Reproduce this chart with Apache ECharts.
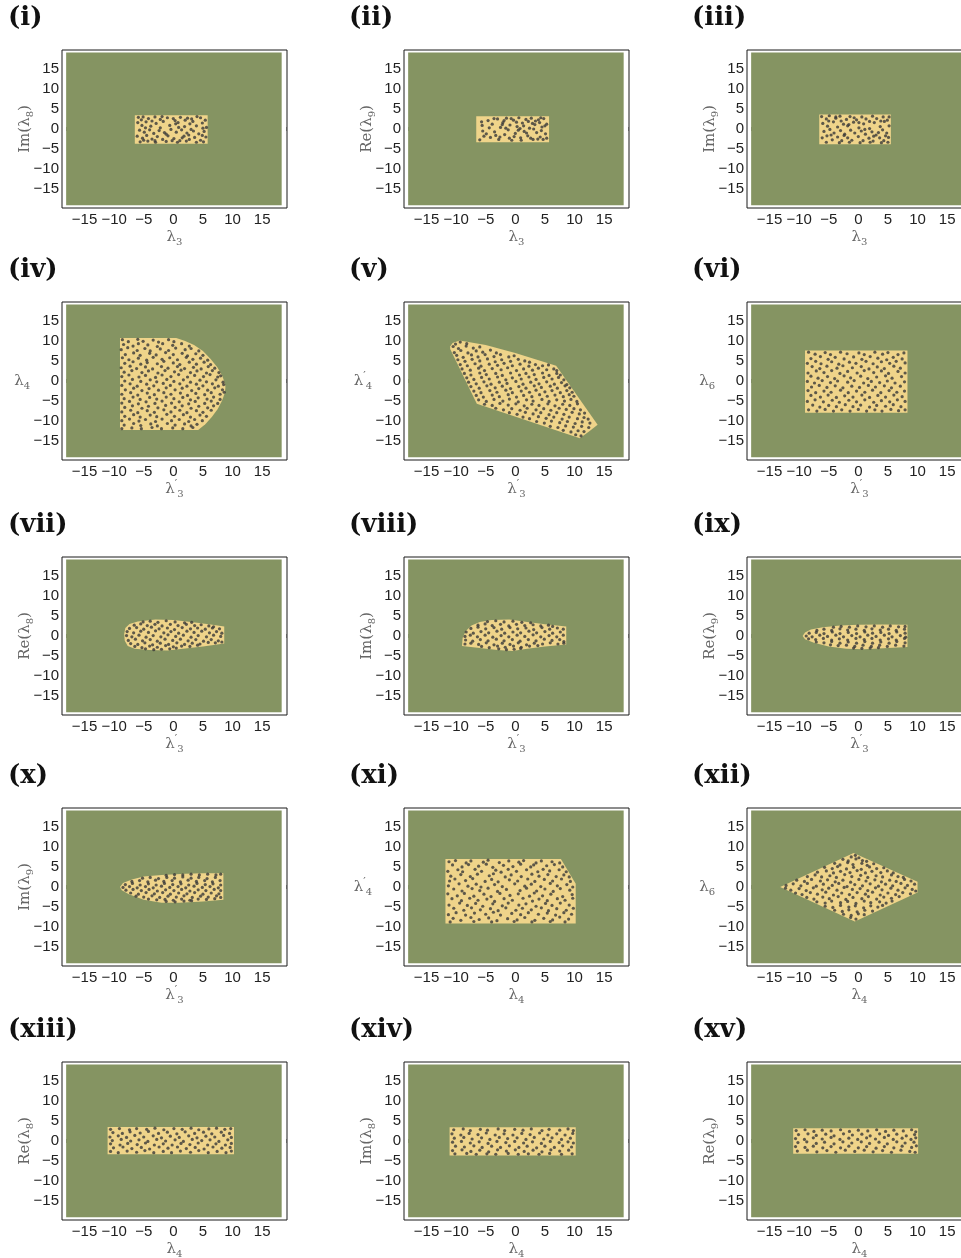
<!DOCTYPE html>
<html><head><meta charset="utf-8">
<script src="https://cdn.jsdelivr.net/npm/echarts@6/dist/echarts.min.js"></script>
<style>html,body{margin:0;padding:0;background:#fff}#c{width:961px;height:1258px}</style>
</head><body><div id="c"></div>
<script>
// ---------- labels ----------
const panelLabels = ['(i)','(ii)','(iii)','(iv)','(v)','(vi)','(vii)','(viii)','(ix)','(x)','(xi)','(xii)','(xiii)','(xiv)','(xv)'];
const xNames = ['{m|λ}{s|3}','{m|λ}{s|3}','{m|λ}{s|3}','{m|λ}{p|′}{s|3}','{m|λ}{p|′}{s|3}','{m|λ}{p|′}{s|3}','{m|λ}{p|′}{s|3}','{m|λ}{p|′}{s|3}','{m|λ}{p|′}{s|3}','{m|λ}{p|′}{s|3}','{m|λ}{s|4}','{m|λ}{s|4}','{m|λ}{s|4}','{m|λ}{s|4}','{m|λ}{s|4}'];
const yNames = ['{m|Im(λ}{s|8}{m|)}','{m|Re(λ}{s|9}{m|)}','{m|Im(λ}{s|9}{m|)}','{m|λ}{s|4}','{m|λ}{p|′}{s|4}','{m|λ}{s|6}','{m|Re(λ}{s|8}{m|)}','{m|Im(λ}{s|8}{m|)}','{m|Re(λ}{s|9}{m|)}','{m|Im(λ}{s|9}{m|)}','{m|λ}{p|′}{s|4}','{m|λ}{s|6}','{m|Re(λ}{s|8}{m|)}','{m|Im(λ}{s|8}{m|)}','{m|Re(λ}{s|9}{m|)}'];
const yNameRotated = [true,true,true,false,false,false,true,true,true,true,false,false,true,true,true];
const tickValues = [-15,-10,-5,0,5,10,15];
const minorTickValues = [-18,-17,-16,-15,-14,-13,-12,-11,-10,-9,-8,-7,-6,-5,-4,-3,-2,-1,0,1,2,3,4,5,6,7,8,9,10,11,12,13,14,15,16,17,18,19];

// ---------- allowed regions (vertices) ----------
const region1 = [[-6.5,3.4],[5.8,3.4],[5.8,-3.7],[-6.5,-3.7]];
const region2 = [[-6.6,3.2],[5.7,3.2],[5.7,-3.3],[-6.6,-3.3]];
const region3 = [[-6.6,3.6],[5.5,3.6],[5.5,-3.8],[-6.6,-3.8]];
const region4 = [[-9,10.7],[0.5,10.7],[2,10],[3.5,9],[5,7.5],[6.3,5.5],[7.4,3.5],[8.2,1.5],[8.7,-0.5],[8.8,-1.5],[8.7,-3],[8.2,-5],[7.5,-7],[6.5,-9],[5.4,-10.8],[4.2,-12.2],[-9,-12.2]];
const region5 = [[-11,8.6],[-10.6,9.5],[-9.4,10.1],[-5,9],[0,7],[6.9,3.8],[13.9,-10.9],[12.5,-12.5],[10.9,-14.3],[-6.5,-5.7],[-11,8]];
const region6 = [[-9,7.6],[8.3,7.6],[8.3,-7.9],[-9,-7.9]];
const region7 = [[-8.3,0.5],[-8.1,2],[-7.4,3],[-6,3.6],[-3,4.1],[0,4.0],[3,3.5],[6,2.9],[8.6,2.4],[8.6,-1.9],[5,-2.6],[2,-3.1],[-1,-3.6],[-4,-3.5],[-6.5,-3.2],[-7.7,-2.5],[-8.2,-1.2]];
const region8 = [[-9,-2.5],[-8.9,-0.5],[-8.4,1.2],[-7.4,2.6],[-6,3.5],[-4,4.0],[-1,4.1],[2,3.5],[5,2.9],[8.6,2.4],[8.6,-2.1],[5,-2.6],[2,-3.2],[-0.5,-3.75],[-3,-3.5],[-6,-3.0]];
const region9 = [[-9.4,0],[-9,0.9],[-8,1.6],[-6,2.2],[-3,2.6],[0,2.8],[4,2.85],[8.3,2.8],[8.3,-2.75],[5,-3.0],[1,-3.3],[-2,-3.2],[-5,-2.6],[-7.5,-1.7],[-9,-0.8]];
const region10 = [[-9,0],[-8.5,1],[-7,1.9],[-5,2.6],[-2,3.0],[2,3.3],[5,3.4],[8.45,3.4],[8.45,-3.2],[5,-3.6],[1,-3.9],[-2,-3.9],[-5,-3.2],[-7.5,-1.8],[-8.7,-0.8]];
const region11 = [[-11.8,7],[7.7,7],[10.2,0.8],[10.2,-9.1],[-11.8,-9.1]];
const region12 = [[-13.2,0],[-0.8,8.5],[10,1.3],[10,-1.4],[-0.6,-8.6]];
const region13 = [[-11.1,3.5],[10.25,3.5],[10.25,-3.3],[-11.1,-3.3]];
const region14 = [[-11.1,3.4],[10.2,3.4],[10.2,-3.6],[-11.1,-3.6]];
const region15 = [[-11,3.2],[10.1,3.2],[10.1,-3.2],[-11,-3.2]];

// ---------- sampled points (x,y,x,y,...) ----------
const dots1 = [-5.9,2.9,-5.1,3.0,-4.2,2.6,-3.1,3.0,-2.2,2.4,-1.0,2.8,0.3,2.1,1.2,2.9,2.4,2.7,3.3,1.9,4.6,2.8,5.4,2.2,
-6.0,1.6,-5.3,0.9,-4.6,1.8,-3.8,0.7,-2.9,1.4,-1.7,1.9,-0.6,0.9,0.8,1.6,1.9,0.6,2.8,1.3,3.9,0.8,4.9,1.5,5.6,0.4,
-5.7,-0.3,-4.9,-0.8,-4.0,-0.2,-3.3,-1.1,-2.4,-0.4,-1.5,-0.9,-0.4,-0.1,0.5,-0.8,1.4,-0.2,2.3,-1.0,3.4,-0.5,4.3,-1.2,5.2,-0.6,
-6.1,-1.8,-5.2,-2.3,-4.5,-1.6,-3.6,-2.5,-2.7,-1.9,-1.8,-2.6,-0.9,-1.7,0.1,-2.4,1.1,-2.9,1.8,-1.8,2.7,-2.6,3.6,-2.1,4.6,-2.8,5.5,-2.0,
-5.6,-3.2,-4.3,-3.0,-3.0,-3.3,-1.2,-3.1,0.7,-3.3,2.2,-3.0,3.9,-3.3,5.1,-3.2,
-5.4,2.3,-3.6,2.0,-1.9,3.1,0.0,2.6,2.0,2.2,4.0,3.1,5.0,0.2,-2.2,0.3,0.9,0.4,3.0,-0.1,-4.7,0.3,-1.2,-1.3,2.6,-1.5,4.9,-1.6,-3.1,-2.9,1.5,-2.2,0.4,1.3,-5.0,-2.8,3.1,2.5,-0.2,-2.9];
const dots2 = [-6.0,-2.7,-5.6,0.9,-5.5,-0.5,-5.3,-1.8,-4.6,2.1,-4.2,-2.1,-3.9,1.2,-3.5,-0.7,-3.0,2.5,-2.8,-2.6,-2.5,0.4,-2.1,1.6,-1.8,-1.4,-1.5,2.7,-1.2,-0.2,-0.9,1.0,-0.6,-2.8,-0.3,2.2,0.0,-1.1,0.3,0.6,0.6,2.8,0.9,-2.2,1.2,1.5,1.5,-0.6,1.8,2.4,2.1,-1.7,2.4,0.2,2.7,2.7,3.0,-2.6,3.3,1.1,3.6,-0.9,3.9,2.3,4.2,-2.0,4.5,0.5,4.8,2.6,5.1,-1.2,5.3,1.2,
-5.7,1.8,-4.9,-1.2,-4.4,0.3,-3.6,2.6,-3.3,-1.6,-2.6,-2.0,-2.2,1.1,-1.6,0.2,-1.0,-2.3,-0.7,2.6,0.2,1.7,0.5,-0.3,1.0,-2.8,1.4,0.8,1.9,-1.0,2.2,1.9,2.6,-2.3,3.1,0.0,3.4,2.0,3.8,-2.5,4.1,1.6,4.4,-0.4,4.7,-2.6,5.0,0.8,5.3,-2.3,-0.2,-1.9,0.8,0.1,2.9,1.4,4.3,2.8,-1.9,2.1];
const dots3 = [-6.2,3.1,-5.4,2.5,-4.9,3.3,-3.8,2.7,-3.1,3.2,-2.0,2.4,-1.4,3.1,-0.3,2.3,0.6,3.0,1.3,2.5,2.4,3.2,3.1,2.6,4.2,3.0,4.9,2.2,
-6.0,1.4,-5.2,0.7,-4.2,1.8,-3.5,0.5,-2.5,1.2,-1.8,0.8,-0.8,1.7,0.1,0.3,0.9,1.3,1.9,0.1,2.7,1.6,3.7,0.6,4.4,1.9,5.2,0.8,
-5.8,-0.6,-4.8,-0.1,-4.1,-1.0,-3.0,-0.4,-2.3,-1.3,-1.3,-0.3,-0.6,-1.0,0.5,-0.5,1.2,-1.3,2.3,-0.7,3.0,-1.5,4.1,-0.2,4.8,-1.0,
-6.1,-2.2,-5.3,-1.7,-4.4,-2.7,-3.5,-2.0,-2.8,-2.9,-1.8,-2.2,-1.1,-2.8,0.0,-1.9,0.8,-2.9,1.8,-2.3,2.5,-3.0,3.6,-2.2,4.3,-2.9,5.1,-2.1,
-5.4,-3.3,-3.2,-3.4,-1.5,-3.3,0.3,-3.4,2.0,-3.3,3.9,-3.4,5.0,-3.3,
-5.0,2.0,-2.9,2.0,-0.7,2.8,1.9,1.9,3.8,2.0,-4.6,-1.5,-1.6,1.1,1.1,-0.1,2.6,-1.8,4.6,-1.7,5.2,3.0,-3.8,3.0,0.1,1.6,-2.4,-1.6,3.4,-0.9];
const dots4 = [-8.6,10.3,-7.6,9.8,-6.0,10.4,-5.1,9.9,-3.4,10.2,-2.5,9.7,-0.8,10.3,0.1,9.8,
-8.4,9.1,-6.8,8.7,-5.9,9.3,-4.3,9.0,-2.7,8.6,-1.8,9.3,-0.1,8.9,1.4,9.3,2.7,8.7,
-8.8,7.8,-7.7,8.3,-6.1,7.6,-4.8,8.1,-3.9,7.5,-2.2,8.0,-0.8,7.6,0.4,8.2,2.0,7.8,3.0,8.1,4.3,7.5,
-8.1,6.6,-6.7,7.0,-5.6,6.4,-4.0,6.9,-2.9,6.5,-1.3,7.1,0.0,6.6,1.5,6.9,2.4,6.3,3.8,6.8,5.0,6.4,
-8.6,5.8,-7.5,5.3,-5.9,5.7,-4.5,5.2,-3.4,5.9,-1.9,5.4,-0.6,5.8,0.7,5.3,2.2,5.9,3.3,5.4,4.6,5.7,5.8,5.2,
-8.2,4.4,-6.8,4.8,-5.5,4.2,-4.4,4.6,-2.7,4.3,-1.6,4.9,0.0,4.5,1.1,4.1,2.7,4.7,3.9,4.2,5.2,4.7,6.3,4.1,
-8.8,3.3,-7.3,3.7,-6.2,3.1,-4.7,3.5,-3.5,3.0,-2.0,3.6,-0.9,3.2,0.7,3.6,1.9,3.1,3.4,3.4,4.7,3.0,5.9,3.6,7.0,3.2,
-8.3,2.2,-7.0,2.6,-5.3,2.1,-4.2,2.5,-2.6,2.0,-1.4,2.6,0.2,2.3,1.3,2.7,2.9,2.1,4.0,2.5,5.6,2.0,6.6,2.6,7.7,2.1,
-8.7,1.1,-7.5,1.5,-5.8,1.0,-4.7,1.4,-3.0,0.9,-1.9,1.5,-0.4,1.1,0.9,1.6,2.4,1.0,3.6,1.4,5.1,1.1,6.2,1.6,7.5,1.0,8.0,1.3,
-8.2,0.0,-6.9,0.4,-5.5,-0.1,-3.9,0.3,-2.8,-0.2,-1.1,0.4,0.1,-0.1,1.7,0.3,2.9,-0.3,4.5,0.2,5.6,-0.2,7.2,0.3,8.4,-0.3,
-8.7,-1.1,-7.3,-0.7,-6.1,-1.3,-4.5,-0.8,-3.3,-1.2,-1.7,-0.6,-0.5,-1.1,1.1,-0.7,2.3,-1.3,3.9,-0.8,5.0,-1.2,6.6,-0.7,7.6,-1.3,8.5,-0.9,
-8.1,-2.2,-6.7,-1.8,-5.3,-2.4,-4.1,-1.9,-2.5,-2.3,-1.2,-1.7,0.3,-2.2,1.5,-1.8,3.1,-2.4,4.3,-1.9,5.8,-2.3,7.0,-1.7,8.3,-2.2,
-8.7,-3.3,-7.2,-2.9,-6.0,-3.5,-4.4,-3.0,-3.2,-3.4,-1.6,-2.9,-0.4,-3.3,1.2,-3.0,2.4,-3.6,3.8,-3.1,5.3,-3.4,6.4,-2.9,7.9,-3.3,8.6,-2.8,
-8.3,-4.4,-6.8,-4.0,-5.6,-4.6,-4.0,-4.1,-2.8,-4.5,-1.2,-4.0,0.1,-4.4,1.6,-4.1,2.9,-4.7,4.2,-4.2,5.7,-4.5,6.8,-4.0,7.9,-4.6,
-8.7,-5.5,-7.4,-5.1,-5.9,-5.7,-4.6,-5.2,-3.1,-5.6,-1.9,-5.0,-0.3,-5.5,1.0,-5.2,2.6,-5.7,3.7,-5.1,5.3,-5.6,6.4,-5.0,7.5,-5.6,
-8.2,-6.6,-6.9,-6.2,-5.3,-6.8,-4.2,-6.3,-2.6,-6.7,-1.3,-6.1,0.3,-6.6,1.5,-6.2,3.0,-6.8,4.3,-6.3,5.8,-6.7,6.8,-6.2,
-8.7,-7.7,-7.2,-7.3,-6.0,-7.9,-4.4,-7.4,-3.2,-7.8,-1.6,-7.2,-0.4,-7.7,1.1,-7.3,2.3,-7.9,3.9,-7.4,5.0,-7.8,6.4,-7.3,
-8.2,-8.8,-6.7,-8.4,-5.6,-9.0,-3.9,-8.5,-2.8,-8.9,-1.1,-8.3,0.2,-8.8,1.7,-8.4,2.9,-9.0,4.5,-8.5,5.6,-8.8,
-8.7,-9.9,-7.4,-9.5,-5.8,-10.0,-4.7,-9.6,-3.0,-10.1,-1.9,-9.5,-0.3,-9.9,1.0,-9.6,2.6,-10.1,3.6,-9.6,4.9,-9.9,
-8.3,-11.0,-6.7,-10.6,-5.5,-11.1,-3.8,-10.7,-2.7,-11.2,-1.0,-10.6,0.3,-11.0,1.9,-10.7,3.0,-11.2,4.0,-10.8,
-8.7,-11.9,-7.0,-11.7,-5.4,-11.9,-3.6,-11.6,-2.0,-11.9,-0.1,-11.7,1.6,-11.9,3.3,-11.6];
const dots5 = [-10.1,9.2,-9.3,9.7,-8.2,9.3,
-10.5,8.6,-9.6,8.1,-8.3,8.7,-7.1,8.2,-6.0,8.5,
-10.3,7.1,-9.2,7.6,-8.0,7.0,-6.6,7.5,-5.5,7.2,-4.2,7.7,-3.2,7.0,
-9.9,6.4,-8.8,5.9,-7.4,6.5,-6.3,6.0,-5.1,6.6,-3.6,6.1,-2.5,6.6,-1.1,6.0,-0.2,6.3,
-9.7,5.3,-8.5,4.9,-7.3,5.4,-6.0,5.0,-4.7,5.5,-3.4,4.8,-2.3,5.3,-0.8,4.9,0.5,5.4,1.6,5.0,2.4,4.7,
-9.3,4.1,-8.1,3.8,-6.8,4.3,-5.8,3.7,-4.4,4.2,-3.0,3.9,-1.9,4.4,-0.5,3.8,0.8,4.2,2.3,3.7,3.4,4.1,4.6,3.8,5.6,4.0,
-9.0,3.0,-7.6,2.7,-6.2,3.2,-5.2,2.6,-3.9,3.1,-2.4,2.8,-1.3,3.3,0.2,2.6,1.4,3.0,2.9,2.7,3.9,3.2,5.3,2.8,6.5,3.0,7.0,2.6,
-8.6,1.9,-7.5,1.5,-6.0,2.0,-4.9,1.6,-3.3,1.9,-2.2,1.4,-0.8,2.0,0.7,1.5,1.8,1.9,3.2,1.6,4.6,2.0,5.7,1.4,7.0,1.9,7.6,1.5,
-8.2,0.8,-7.0,0.4,-5.7,0.9,-4.4,0.5,-3.0,1.0,-1.6,0.3,-0.5,0.8,1.0,0.5,2.3,1.0,3.5,0.4,4.8,0.9,6.2,0.5,7.3,0.9,8.2,0.3,
-7.9,-0.3,-6.6,-0.7,-5.3,-0.2,-4.1,-0.8,-2.7,-0.3,-1.4,-0.6,0.1,-0.1,1.3,-0.8,2.6,-0.3,4.0,-0.7,5.3,-0.2,6.6,-0.8,7.8,-0.4,8.7,-0.9,
-7.5,-1.4,-6.1,-1.8,-4.8,-1.2,-3.4,-1.7,-2.2,-1.3,-0.8,-1.9,0.6,-1.4,1.8,-1.8,3.2,-1.2,4.4,-1.6,5.9,-1.3,7.1,-1.8,8.4,-1.2,9.2,-1.7,
-7.0,-2.5,-5.8,-2.9,-4.3,-2.4,-3.1,-2.8,-1.6,-2.3,-0.5,-2.9,1.0,-2.5,2.4,-2.8,3.5,-2.3,5.0,-2.7,6.2,-2.4,7.6,-2.9,8.7,-2.4,9.6,-2.8,
-6.6,-3.6,-5.4,-4.0,-3.9,-3.5,-2.7,-3.9,-1.2,-3.4,0.2,-4.0,1.4,-3.6,2.8,-3.9,4.1,-3.4,5.4,-3.8,6.7,-3.5,8.1,-3.9,9.1,-3.4,9.9,-3.8,
-6.2,-4.7,-4.9,-5.1,-3.6,-4.6,-2.1,-5.0,-1.0,-4.5,0.5,-5.2,1.9,-4.7,3.0,-5.0,4.5,-4.6,5.7,-5.1,7.0,-4.7,8.3,-5.0,9.4,-4.6,10.4,-5.1,
-5.2,-5.8,-3.9,-6.1,-2.6,-5.6,-1.2,-6.0,0.1,-5.7,1.5,-6.2,2.8,-5.8,4.0,-6.1,5.5,-5.7,6.7,-6.2,8.0,-5.8,9.2,-6.1,10.5,-5.7,
-3.3,-6.8,-2.0,-7.2,-0.6,-6.9,0.8,-7.3,2.0,-6.8,3.5,-7.2,4.8,-6.9,6.0,-7.3,7.4,-6.8,8.6,-7.1,9.9,-6.9,11.0,-7.2,
-1.0,-7.9,0.3,-8.3,1.7,-7.8,3.0,-8.2,4.3,-7.9,5.7,-8.4,7.0,-7.9,8.2,-8.3,9.6,-7.8,10.8,-8.2,11.7,-8.0,
1.3,-9.0,2.4,-9.4,3.9,-8.9,5.2,-9.3,6.5,-9.0,7.9,-9.5,9.1,-9.0,10.5,-9.4,11.6,-9.1,12.3,-9.5,
3.6,-10.1,4.9,-10.5,6.1,-10.0,7.5,-10.4,8.8,-10.1,10.1,-10.6,11.3,-10.2,12.6,-10.5,
5.9,-11.3,7.2,-11.6,8.5,-11.2,9.8,-11.5,11.2,-11.3,12.4,-11.6,
8.1,-12.3,9.4,-12.7,10.6,-12.4,11.6,-12.6,
10.2,-13.4,11.1,-13.7];
const dots6 = [-8.4,7.2,-7.3,6.7,-5.6,7.1,-4.7,6.6,-3.0,7.2,-1.9,6.8,0.1,7.0,1.0,6.6,2.8,7.2,4.1,6.7,5.0,7.1,6.7,6.6,7.7,7.0,
-8.0,5.6,-6.4,6.1,-5.1,5.4,-3.9,5.9,-2.4,5.5,-0.8,6.0,0.6,5.4,2.0,6.1,3.3,5.7,4.8,5.3,5.9,5.9,7.4,5.5,
-8.6,4.4,-7.2,4.9,-6.3,4.3,-4.5,4.8,-3.3,4.2,-1.5,4.7,-0.4,4.4,1.3,4.9,2.5,4.3,3.9,4.8,5.3,4.4,6.4,4.9,7.9,4.5,
-7.8,3.6,-6.5,3.1,-5.3,3.7,-3.6,3.2,-2.6,3.8,-1.0,3.3,0.5,3.6,1.8,3.0,3.2,3.5,4.4,3.1,6.0,3.7,7.1,3.2,
-8.5,2.0,-7.1,2.5,-5.8,2.1,-4.5,2.6,-3.1,1.9,-1.8,2.4,-0.2,2.0,1.0,2.6,2.6,2.1,3.9,2.5,5.1,1.9,6.7,2.4,7.9,2.0,
-8.0,1.2,-6.8,0.7,-5.2,1.1,-4.0,0.6,-2.4,1.3,-1.3,0.8,0.4,1.2,1.6,0.6,3.1,1.0,4.6,1.3,5.7,0.7,7.3,1.1,
-8.6,-0.1,-7.4,-0.5,-6.1,0.1,-4.7,-0.4,-3.5,0.0,-1.8,-0.3,-0.7,0.1,0.9,-0.5,2.2,-0.1,3.6,-0.4,4.9,0.0,6.2,-0.5,7.8,-0.2,
-7.9,-1.5,-6.6,-1.1,-5.3,-1.6,-3.9,-1.2,-2.6,-1.7,-1.1,-1.3,0.2,-1.6,1.7,-1.1,2.9,-1.5,4.4,-1.2,5.6,-1.7,7.1,-1.3,
-8.5,-2.4,-7.2,-2.9,-5.8,-2.5,-4.6,-2.8,-3.0,-2.3,-1.7,-2.9,-0.3,-2.5,1.1,-2.8,2.4,-2.3,3.8,-2.9,5.2,-2.4,6.5,-2.8,7.8,-2.5,
-8.0,-3.6,-6.4,-4.0,-5.1,-3.5,-3.7,-4.1,-2.3,-3.7,-0.9,-4.0,0.6,-3.5,1.9,-4.1,3.3,-3.6,4.6,-4.0,6.0,-3.5,7.4,-3.9,
-8.6,-5.1,-7.3,-4.7,-5.9,-5.2,-4.4,-4.8,-3.2,-5.3,-1.6,-4.8,-0.3,-5.2,1.1,-4.7,2.6,-5.3,3.9,-4.9,5.3,-5.2,6.6,-4.7,7.9,-5.1,
-7.7,-6.0,-6.5,-6.5,-5.0,-6.1,-3.7,-6.4,-2.2,-5.9,-0.9,-6.4,0.4,-6.0,1.9,-6.5,3.1,-6.1,4.6,-6.3,5.9,-5.9,7.2,-6.4,
-8.4,-7.2,-7.0,-7.5,-5.6,-7.1,-4.2,-7.5,-2.8,-7.2,-1.4,-7.5,0.0,-7.1,1.4,-7.5,2.8,-7.2,4.0,-7.5,5.5,-7.1,6.8,-7.4,7.9,-7.2];
const dots7 = [-5.1,3.5,-3.9,3.7,-2.6,3.4,-1.2,3.8,0.3,3.5,1.9,3.3,3.1,3.4,
-6.6,2.7,-5.5,3.0,-4.4,2.6,-3.1,2.9,-1.9,2.5,-0.5,2.9,0.8,2.6,2.2,2.9,3.6,2.6,4.7,2.8,6.0,2.5,6.8,2.3,
-7.4,1.9,-6.2,2.1,-5.0,1.7,-3.7,2.2,-2.4,1.8,-1.0,2.0,0.2,1.6,1.5,2.1,2.9,1.8,4.1,2.0,5.4,1.7,6.6,2.0,7.8,1.8,
-7.8,1.1,-6.7,0.8,-5.5,1.2,-4.2,0.9,-3.0,1.3,-1.6,0.8,-0.4,1.1,0.9,0.7,2.3,1.2,3.5,0.9,4.8,1.2,6.1,0.8,7.3,1.1,8.2,0.7,
-7.9,0.1,-7.0,-0.2,-5.8,0.2,-4.6,-0.3,-3.4,0.1,-2.1,-0.2,-0.9,0.3,0.4,-0.1,1.7,0.2,3.0,-0.3,4.2,0.1,5.6,-0.2,6.8,0.2,8.0,-0.1,
-7.6,-1.1,-6.4,-0.8,-5.2,-1.2,-3.9,-0.9,-2.7,-1.3,-1.4,-0.8,-0.1,-1.1,1.2,-0.8,2.5,-1.2,3.8,-0.9,5.1,-1.3,6.4,-0.9,7.6,-1.2,
-7.2,-1.9,-6.0,-2.1,-4.8,-1.7,-3.5,-2.2,-2.2,-1.8,-0.8,-2.1,0.6,-1.7,1.9,-2.1,3.2,-1.8,4.5,-2.0,5.9,-1.6,7.1,-1.7,8.2,-1.5,
-6.5,-2.6,-5.3,-2.9,-4.0,-2.5,-2.7,-2.8,-1.3,-2.4,0.0,-2.7,1.4,-2.5,2.8,-2.6,4.1,-2.3,
-4.7,-3.2,-3.3,-3.4,-2.0,-3.3,-0.6,-3.2,0.5,-3.0];
const dots8 = [-4.7,3.6,-3.3,3.8,-1.9,3.5,-0.4,3.7,1.1,3.4,2.6,3.3,
-6.3,2.7,-5.1,3.0,-3.9,2.6,-2.5,2.9,-1.1,2.5,0.2,2.9,1.6,2.6,3.0,2.8,4.3,2.5,5.6,2.7,6.3,2.4,
-7.5,1.9,-6.3,2.2,-5.0,1.8,-3.6,2.1,-2.3,1.7,-0.9,2.1,0.4,1.8,1.8,2.0,3.1,1.6,4.5,2.1,5.8,1.7,7.1,2.0,8.1,1.7,
-8.3,1.0,-7.1,0.7,-5.8,1.1,-4.5,0.8,-3.1,1.2,-1.8,0.7,-0.4,1.0,0.9,0.8,2.3,1.2,3.6,0.8,5.0,1.1,6.3,0.7,7.6,1.0,
-8.5,-0.1,-7.6,0.2,-6.4,-0.2,-5.1,0.2,-3.8,-0.3,-2.4,0.1,-1.1,-0.2,0.3,0.2,1.6,-0.1,3.0,0.3,4.3,-0.2,5.7,0.1,7.0,-0.2,8.1,0.2,
-8.4,-1.0,-7.2,-1.3,-5.9,-0.9,-4.6,-1.2,-3.2,-0.8,-1.9,-1.2,-0.5,-0.9,0.8,-1.3,2.2,-0.9,3.5,-1.2,4.9,-0.8,6.2,-1.1,7.5,-0.9,8.2,-1.4,
-8.5,-2.0,-7.5,-1.8,-6.2,-2.1,-4.9,-1.7,-3.6,-2.2,-2.2,-1.8,-0.9,-2.1,0.5,-1.7,1.9,-2.2,3.2,-1.8,4.6,-2.0,5.9,-1.7,7.2,-2.0,8.2,-1.8,
-5.7,-2.6,-4.4,-2.9,-3.0,-2.5,-1.7,-2.8,-0.3,-2.5,1.0,-2.8,2.4,-2.5,3.8,-2.4,
-2.8,-3.2,-1.5,-3.4,-0.2,-3.3,0.9,-3.1];
const dots9 = [-4.2,2.2,-2.9,2.4,-1.5,2.2,-0.1,2.5,1.3,2.3,2.7,2.5,4.1,2.2,5.4,2.5,6.8,2.3,7.9,2.4,
-7.0,1.4,-5.8,1.7,-4.5,1.4,-3.1,1.8,-1.8,1.5,-0.4,1.7,1.0,1.4,2.3,1.8,3.7,1.5,5.1,1.7,6.4,1.4,7.8,1.7,
-8.3,0.7,-7.1,0.9,-5.8,0.6,-4.4,1.0,-3.1,0.6,-1.7,0.9,-0.3,0.6,1.1,1.0,2.4,0.7,3.8,0.9,5.2,0.6,6.5,1.0,7.9,0.7,
-8.8,0.0,-7.8,-0.2,-6.5,0.2,-5.2,-0.1,-3.8,0.2,-2.5,-0.2,-1.1,0.1,0.3,-0.2,1.6,0.2,3.0,-0.1,4.4,0.2,5.7,-0.2,7.1,0.1,8.0,-0.3,
-8.4,-0.7,-7.2,-0.9,-5.9,-0.6,-4.5,-1.0,-3.2,-0.7,-1.8,-1.0,-0.4,-0.6,1.0,-0.9,2.3,-0.6,3.7,-1.0,5.1,-0.7,6.4,-1.0,7.8,-0.6,
-7.1,-1.5,-5.8,-1.7,-4.5,-1.4,-3.1,-1.8,-1.7,-1.5,-0.3,-1.8,1.1,-1.4,2.4,-1.8,3.8,-1.5,5.2,-1.8,6.5,-1.4,7.9,-1.7,
-4.7,-2.2,-3.4,-2.4,-2.0,-2.3,-0.6,-2.6,0.8,-2.3,2.2,-2.6,3.6,-2.3,4.9,-2.6,6.3,-2.3,7.7,-2.5,
-0.8,-3.0,0.6,-3.1,2.0,-3.0,3.4,-2.9];
const dots10 = [-1.2,2.9,0.2,3.1,1.6,3.0,3.0,3.2,4.4,3.0,5.8,3.2,7.2,3.0,8.0,3.2,
-5.2,2.2,-3.9,2.4,-2.5,2.1,-1.1,2.4,0.2,2.2,1.6,2.5,3.0,2.2,4.3,2.4,5.7,2.1,7.1,2.4,
-7.0,1.4,-5.7,1.6,-4.3,1.3,-3.0,1.7,-1.6,1.4,-0.2,1.6,1.2,1.3,2.5,1.7,3.9,1.4,5.3,1.6,6.6,1.3,7.9,1.6,
-8.1,0.6,-6.9,0.9,-5.6,0.5,-4.2,0.8,-2.9,0.5,-1.5,0.9,-0.1,0.6,1.3,0.8,2.6,0.5,4.0,0.9,5.4,0.6,6.7,0.8,8.0,0.5,
-8.5,-0.1,-7.4,0.1,-6.1,-0.2,-4.7,0.1,-3.4,-0.2,-2.0,0.2,-0.6,-0.1,0.8,0.1,2.1,-0.2,3.5,0.2,4.9,-0.1,6.2,0.1,7.6,-0.2,
-8.0,-0.8,-6.8,-0.6,-5.4,-0.9,-4.1,-0.6,-2.7,-1.0,-1.3,-0.7,0.1,-0.9,1.4,-0.6,2.8,-1.0,4.2,-0.7,5.5,-0.9,6.9,-0.6,8.0,-0.9,
-7.2,-1.5,-5.9,-1.8,-4.6,-1.4,-3.2,-1.7,-1.8,-1.4,-0.5,-1.8,0.9,-1.5,2.3,-1.7,3.6,-1.4,5.0,-1.8,6.4,-1.5,7.7,-1.7,
-6.3,-2.3,-5.0,-2.5,-3.6,-2.2,-2.3,-2.6,-0.9,-2.3,0.5,-2.5,1.8,-2.2,3.2,-2.6,4.6,-2.3,5.9,-2.5,7.3,-2.2,8.0,-2.6,
-4.2,-3.0,-2.8,-3.2,-1.4,-3.1,0.0,-3.3,1.4,-3.0,2.8,-3.3,4.2,-3.0,5.6,-3.1,7.0,-2.9,
-1.2,-3.6,0.3,-3.7,1.8,-3.5,3.1,-3.4];
const dots11 = [-11.2,6.3,-10.1,6.6,-8.3,6.0,-7.5,6.5,-5.4,6.2,-4.6,6.7,-2.7,6.1,-1.1,6.5,0.6,6.2,1.4,6.6,3.5,6.0,4.4,6.5,6.2,6.3,7.5,6.0,
-10.6,5.5,-9.0,5.0,-7.9,5.6,-6.2,5.2,-4.9,5.7,-3.8,4.9,-2.0,5.4,-0.4,5.1,0.9,5.7,2.6,5.0,3.1,5.5,5.3,5.3,6.6,5.6,8.0,5.0,
-11.4,3.9,-9.7,4.3,-8.9,3.8,-6.8,4.4,-5.7,3.9,-3.3,4.2,-2.4,3.7,-1.2,4.4,0.2,3.9,1.9,4.3,3.8,3.8,4.7,4.4,5.8,4.0,7.4,4.3,8.6,3.8,
-10.9,2.7,-9.2,3.1,-7.6,2.6,-6.4,3.2,-4.4,2.8,-3.7,3.3,-1.7,2.5,-0.7,3.0,1.0,2.6,2.8,3.2,4.0,2.7,5.5,3.1,6.9,2.6,8.2,3.0,9.1,2.5,
-11.1,1.5,-10.2,2.0,-8.4,1.6,-7.2,2.1,-5.1,1.4,-4.0,1.9,-2.9,1.3,-1.0,1.8,0.4,1.5,2.1,2.0,3.3,1.4,4.9,1.9,6.3,1.5,7.8,2.0,9.3,1.4,
-11.3,0.3,-9.5,0.8,-8.0,0.2,-6.6,0.7,-5.8,0.0,-3.5,0.6,-2.2,0.1,-0.1,0.8,1.6,0.2,2.7,0.7,4.3,0.1,5.9,0.9,7.1,0.3,8.7,0.6,9.7,0.0,
-10.4,-0.5,-9.0,-1.0,-7.3,-0.4,-6.0,-0.9,-4.6,-0.3,-3.0,-1.1,-1.5,-0.6,0.8,-0.9,1.9,-0.3,3.6,-1.0,5.0,-0.5,6.4,-1.1,7.6,-0.4,9.2,-0.8,
-11.4,-1.7,-9.8,-2.2,-8.6,-1.6,-7.0,-2.3,-5.3,-1.8,-4.1,-2.4,-2.6,-1.6,-0.9,-2.1,0.5,-1.7,2.4,-2.3,3.2,-1.5,4.6,-2.2,6.0,-1.8,8.0,-2.4,9.6,-1.9,
-10.7,-2.9,-9.1,-3.4,-7.7,-2.8,-6.3,-3.3,-4.8,-3.0,-3.5,-3.6,-1.9,-2.9,-0.5,-3.3,1.3,-2.8,2.9,-3.5,4.0,-3.0,5.4,-3.4,7.1,-2.9,8.4,-3.3,9.7,-2.8,
-11.2,-4.5,-9.4,-4.0,-8.1,-4.6,-6.7,-4.1,-5.5,-4.8,-3.8,-4.2,-2.2,-4.7,-1.2,-4.0,0.6,-4.5,1.8,-4.2,3.5,-4.8,5.1,-4.1,6.2,-4.6,7.6,-4.0,9.1,-4.5,
-10.4,-5.3,-8.7,-5.8,-7.4,-5.2,-5.9,-5.7,-4.2,-5.4,-2.9,-5.9,-1.6,-5.2,0.1,-5.8,1.2,-5.3,2.7,-5.7,4.4,-5.2,5.6,-5.9,7.0,-5.4,8.6,-5.8,9.8,-5.3,
-11.3,-6.9,-10.0,-6.4,-8.4,-7.0,-6.9,-6.5,-5.0,-6.8,-3.7,-6.3,-2.5,-7.0,-0.6,-6.6,0.9,-6.9,2.2,-6.4,3.9,-6.8,5.4,-6.5,6.8,-7.0,8.2,-6.4,9.5,-6.8,
-10.5,-7.8,-9.2,-8.3,-7.5,-7.6,-6.1,-8.1,-4.5,-7.7,-3.1,-8.4,-1.3,-7.9,0.3,-8.2,1.6,-7.6,3.3,-8.3,4.8,-7.8,6.3,-8.2,7.5,-7.5,9.0,-8.0,
-11.0,-8.7,-7.0,-8.6,-4.0,-8.7,-0.2,-8.6,2.8,-8.7,5.9,-8.6,8.4,-8.7];
const dots12 = [-1.2,7.5,-0.5,7.9,0.1,7.3,
-2.6,6.9,-1.7,6.5,-0.4,7.0,0.7,6.6,1.4,6.4,
-4.0,5.9,-3.1,5.5,-1.8,6.1,-0.9,5.6,0.6,5.9,1.5,5.4,2.6,5.8,
-5.7,4.9,-4.4,4.6,-3.5,5.1,-2.0,4.5,-0.8,4.9,0.5,4.4,1.9,5.0,3.1,4.6,4.3,4.8,
-6.9,3.7,-5.4,4.0,-4.2,3.5,-3.0,3.9,-1.4,3.6,-0.2,4.1,1.2,3.5,2.3,3.9,3.8,3.6,4.9,4.0,5.9,3.5,
-8.6,2.6,-7.3,3.0,-6.2,2.5,-4.8,2.8,-3.7,2.4,-2.3,3.1,-1.1,2.6,0.4,2.9,1.6,2.4,3.0,2.8,4.1,2.5,5.6,3.0,6.7,2.6,7.6,2.4,
-10.4,1.7,-9.1,1.4,-7.9,1.9,-6.4,1.5,-5.2,1.8,-3.9,1.3,-2.6,1.7,-1.3,1.2,0.1,1.9,1.3,1.5,2.8,1.8,3.9,1.3,5.3,1.7,6.4,1.4,7.8,1.9,8.9,1.5,
-12.2,0.4,-11.0,0.8,-9.7,0.3,-8.6,0.9,-7.1,0.2,-5.9,0.7,-4.4,0.4,-3.3,0.9,-1.9,0.1,-0.6,0.6,0.7,0.3,2.0,0.8,3.4,0.2,4.6,0.7,5.8,0.3,7.2,0.9,8.3,0.4,9.5,0.7,
-12.3,-0.3,-11.4,-0.8,-10.0,-0.4,-8.8,-0.9,-7.6,-0.2,-6.1,-0.7,-5.0,-0.3,-3.6,-0.8,-2.4,-0.1,-1.0,-0.6,0.3,-0.4,1.6,-0.9,2.9,-0.2,4.0,-0.7,5.5,-0.3,6.7,-0.8,7.9,-0.2,9.1,-0.6,9.7,-1.0,
-10.6,-1.5,-9.5,-1.9,-8.1,-1.4,-6.9,-1.8,-5.5,-1.3,-4.2,-2.0,-2.8,-1.5,-1.5,-1.9,-0.2,-1.4,1.2,-1.8,2.4,-1.3,3.7,-2.0,5.0,-1.5,6.3,-1.9,7.5,-1.4,8.8,-1.7,
-8.7,-2.6,-7.5,-3.0,-6.0,-2.5,-4.9,-2.9,-3.4,-2.4,-2.1,-3.1,-0.9,-2.6,0.6,-2.9,1.7,-2.4,3.1,-3.0,4.3,-2.5,5.6,-2.8,6.9,-2.4,
-7.0,-3.7,-5.6,-4.0,-4.5,-3.5,-3.0,-3.9,-1.8,-3.6,-0.4,-4.1,1.0,-3.5,2.1,-3.9,3.6,-3.7,4.7,-4.0,5.7,-3.5,
-5.6,-4.8,-4.3,-5.1,-3.0,-4.6,-1.6,-5.0,-0.5,-4.7,0.9,-5.2,2.1,-4.7,3.3,-5.0,4.1,-4.6,
-4.0,-5.8,-2.7,-6.1,-1.6,-5.7,-0.2,-6.2,1.1,-5.8,2.4,-6.0,
-2.5,-6.8,-1.2,-7.1,0.0,-6.7,1.0,-6.9,
-1.3,-7.6,-0.4,-8.0];
const dots13 = [-10.6,2.9,-9.1,3.1,-7.4,2.8,-6.2,3.1,-4.5,2.9,-3.1,3.2,-1.6,2.8,0.1,3.1,1.5,2.9,3.0,3.2,4.3,2.8,6.0,3.0,7.3,3.2,8.7,2.9,9.7,3.1,
-10.2,2.1,-8.6,1.9,-7.3,2.3,-5.6,2.0,-4.2,2.4,-2.5,1.9,-1.0,2.2,0.6,1.8,2.0,2.3,3.6,1.9,5.1,2.2,6.5,1.8,8.1,2.2,9.5,1.9,
-10.7,1.0,-9.3,1.3,-7.9,0.9,-6.5,1.4,-5.0,1.0,-3.4,1.3,-2.0,0.8,-0.5,1.2,1.0,0.9,2.6,1.3,4.0,0.8,5.5,1.2,7.0,1.0,8.5,1.4,9.8,0.9,
-10.3,0.1,-8.8,0.4,-7.2,0.0,-5.8,0.3,-4.3,-0.1,-2.8,0.4,-1.3,0.0,0.3,0.3,1.7,-0.1,3.2,0.4,4.8,0.1,6.2,0.3,7.7,-0.1,9.2,0.3,
-10.6,-0.7,-9.0,-1.0,-7.7,-0.6,-6.1,-0.9,-4.7,-0.5,-3.2,-1.0,-1.7,-0.7,-0.2,-1.0,1.3,-0.6,2.8,-0.9,4.2,-0.5,5.8,-1.0,7.2,-0.7,8.8,-1.0,9.8,-0.6,
-10.1,-1.7,-8.5,-1.5,-7.0,-1.9,-5.4,-1.6,-4.0,-2.0,-2.4,-1.5,-0.9,-1.8,0.7,-1.5,2.2,-1.9,3.7,-1.6,5.2,-2.0,6.7,-1.5,8.2,-1.8,9.6,-1.6,
-10.6,-2.6,-9.3,-2.9,-7.8,-2.5,-6.2,-2.8,-4.8,-2.4,-3.3,-2.9,-1.7,-2.6,-0.3,-2.9,1.2,-2.5,2.9,-2.8,4.3,-2.4,5.9,-2.9,7.4,-2.6,8.9,-2.9,9.8,-2.5];
const dots14 = [-10.4,2.8,-8.8,3.0,-7.6,2.6,-5.9,2.9,-4.7,2.7,-2.9,3.0,-1.8,2.6,-0.1,2.9,1.3,2.7,2.7,3.0,4.5,2.6,5.7,2.9,7.5,2.7,8.9,3.0,9.8,2.6,
-10.7,1.8,-9.2,1.5,-7.8,1.9,-6.3,1.6,-4.9,2.0,-3.4,1.5,-1.9,1.8,-0.4,1.5,1.1,1.9,2.5,1.6,4.1,2.0,5.5,1.5,7.0,1.8,8.4,1.5,9.7,1.9,
-10.3,0.7,-8.7,0.9,-7.3,0.5,-5.7,0.8,-4.3,0.4,-2.7,0.9,-1.3,0.6,0.3,0.8,1.8,0.4,3.2,0.9,4.8,0.5,6.2,0.8,7.8,0.4,9.3,0.7,
-10.6,-0.3,-9.1,-0.1,-7.6,-0.5,-6.1,-0.2,-4.6,-0.6,-3.1,-0.1,-1.6,-0.4,-0.1,-0.1,1.4,-0.5,2.9,-0.2,4.4,-0.6,5.9,-0.1,7.4,-0.4,8.9,-0.2,9.8,-0.5,
-10.1,-1.3,-8.6,-1.5,-7.0,-1.2,-5.6,-1.6,-4.0,-1.3,-2.5,-1.6,-1.0,-1.2,0.6,-1.6,2.0,-1.3,3.6,-1.7,5.0,-1.3,6.6,-1.6,8.0,-1.2,9.5,-1.5,
-10.6,-2.4,-9.0,-2.2,-7.5,-2.6,-6.0,-2.3,-4.5,-2.7,-3.0,-2.2,-1.5,-2.5,0.0,-2.2,1.5,-2.6,3.0,-2.3,4.5,-2.7,6.0,-2.2,7.5,-2.5,9.0,-2.3,
-10.2,-3.2,-8.2,-3.1,-6.6,-3.3,-4.8,-3.2,-3.3,-3.3,-1.2,-3.1,0.5,-3.3,2.2,-3.2,4.0,-3.3,5.8,-3.1,7.8,-3.3,9.6,-3.2];
const dots15 = [-10.5,2.6,-9.0,2.8,-7.5,2.4,-6.1,2.7,-4.6,2.5,-3.0,2.8,-1.5,2.4,0.0,2.7,1.6,2.5,3.1,2.8,4.6,2.4,6.0,2.7,7.6,2.5,9.0,2.8,9.7,2.3,
-10.1,1.6,-8.5,1.8,-7.1,1.4,-5.5,1.7,-4.1,1.3,-2.5,1.8,-1.0,1.5,0.6,1.7,2.0,1.3,3.6,1.8,5.1,1.4,6.5,1.7,8.1,1.3,9.5,1.6,
-10.6,0.6,-9.1,0.4,-7.6,0.8,-6.1,0.5,-4.6,0.9,-3.1,0.4,-1.6,0.7,-0.1,0.4,1.4,0.8,2.9,0.5,4.4,0.9,5.9,0.4,7.4,0.7,8.9,0.4,9.7,0.8,
-10.2,-0.4,-8.7,-0.2,-7.1,-0.6,-5.7,-0.3,-4.1,-0.7,-2.6,-0.2,-1.1,-0.5,0.5,-0.2,1.9,-0.6,3.5,-0.3,4.9,-0.7,6.5,-0.2,7.9,-0.5,9.4,-0.3,
-10.6,-1.4,-9.0,-1.6,-7.6,-1.3,-6.0,-1.7,-4.6,-1.4,-3.0,-1.7,-1.6,-1.3,0.0,-1.7,1.4,-1.4,3.0,-1.8,4.4,-1.4,6.0,-1.7,7.4,-1.3,9.0,-1.6,9.8,-1.2,
-10.3,-2.5,-8.6,-2.3,-7.0,-2.7,-5.3,-2.4,-3.8,-2.8,-2.2,-2.3,-0.6,-2.6,1.0,-2.3,2.5,-2.7,4.1,-2.4,5.6,-2.8,7.2,-2.3,8.7,-2.6,9.6,-2.8];

// ---------- style constants ----------
const GREEN = '#859462', YELLOW = '#efd48a', DOT = '#383838';
const GREEN_X0 = -18.1, GREEN_X1 = 18.3, GREEN_Y0 = -19.0, GREEN_Y1 = 19.1;
const COL_LEFT = [62, 404, 747], ROW_TOP = [50, 302, 557, 808, 1062], GW = 225, GH = 158;
const LABEL_X = [8, 349, 692];
const NAME_RICH = {
  m:{fontFamily:'DejaVu Serif, serif', fontSize:15, color:'#666', lineHeight:20},
  s:{fontFamily:'DejaVu Serif, serif', fontSize:10, color:'#666', verticalAlign:'bottom', lineHeight:13},
  p:{fontFamily:'DejaVu Serif, serif', fontSize:11, color:'#666', verticalAlign:'top', lineHeight:13}
};

const regions = [region1,region2,region3,region4,region5,region6,region7,region8,region9,region10,region11,region12,region13,region14,region15];
const dots = [dots1,dots2,dots3,dots4,dots5,dots6,dots7,dots8,dots9,dots10,dots11,dots12,dots13,dots14,dots15];

function pairs(a){ const r=[]; for(let k=0;k<a.length;k+=2) r.push([a[k],a[k+1]]); return r; }
const fmt = v => v < 0 ? '\u2212' + (-v) : String(v);
const yMinor = minorTickValues.filter(v => v >= -19 && v <= 19);

const grid=[], xAxis=[], yAxis=[], series=[], graphic=[];
for (let i=0;i<15;i++){
  const r = Math.floor(i/3), c = i%3;
  grid.push({left:COL_LEFT[c], top:ROW_TOP[r], width:GW, height:GH, show:true, borderColor:'#1a1a1a', borderWidth:1,
    backgroundColor:'transparent', containLabel:false, outerBoundsMode:'none'});
  const rotated = yNameRotated[i];
  const tickStyle = {show:true, inside:true, length:2, lineStyle:{color:'#555', width:0.8}};
  const labelStyle = {show:true, customValues:tickValues, formatter:fmt, fontSize:15, color:'#222', fontFamily:'Liberation Sans, Arial, sans-serif'};
  const base = {type:'value', gridIndex:i, min:-18.8, max:19.2, splitLine:{show:false}, axisLine:{show:false}};
  xAxis.push(Object.assign({}, base, {position:'bottom',
    axisTick:Object.assign({customValues:minorTickValues}, tickStyle),
    axisLabel:Object.assign({margin:4}, labelStyle),
    name:xNames[i], nameLocation:'middle', nameGap:19, nameMoveOverlap:false,
    nameTextStyle:{rich:NAME_RICH}}));
  xAxis.push(Object.assign({}, base, {position:'top',
    axisTick:Object.assign({customValues:minorTickValues}, tickStyle), axisLabel:{show:false}}));
  const ybase = {type:'value', gridIndex:i, min:-19.7, max:19.7, splitLine:{show:false}, axisLine:{show:false}};
  yAxis.push(Object.assign({}, ybase, {position:'left',
    axisTick:Object.assign({customValues:yMinor}, tickStyle),
    axisLabel:Object.assign({margin:3}, labelStyle),
    name:yNames[i], nameLocation:'middle', nameRotate: rotated ? 90 : 0, nameGap: rotated ? 27 : 32, nameMoveOverlap:false,
    nameTextStyle:{rich:NAME_RICH}}));
  yAxis.push(Object.assign({}, ybase, {position:'right',
    axisTick:Object.assign({customValues:yMinor}, tickStyle), axisLabel:{show:false}}));
  const verts = regions[i];
  series.push({type:'custom', xAxisIndex:2*i, yAxisIndex:2*i, silent:true, z:1, clip:false,
    data: verts,
    renderItem: function(params, api){
      if (params.dataIndex !== 0) return;
      const a = api.coord([GREEN_X0, GREEN_Y1]), b = api.coord([GREEN_X1, GREEN_Y0]);
      const pts = verts.map(v => api.coord(v));
      return {type:'group', children:[
        {type:'rect', shape:{x:a[0], y:a[1], width:b[0]-a[0], height:b[1]-a[1]}, style:{fill:GREEN}},
        {type:'polygon', shape:{points:pts}, style:{fill:YELLOW}}
      ]};
    }});
  series.push({type:'scatter', xAxisIndex:2*i, yAxisIndex:2*i, z:3, silent:true, symbol:'circle', symbolSize:3.2,
    itemStyle:{color:DOT}, data: pairs(dots[i])});
  graphic.push({type:'text', x:LABEL_X[c], y:ROW_TOP[r]-32, style:{text:panelLabels[i], font:'bold 26px "DejaVu Serif", serif', fill:'#111', verticalAlign:'middle', textVerticalAlign:'middle'}});
}

const chart = echarts.init(document.getElementById('c'), null, {renderer:'canvas', width:961, height:1258});
chart.setOption({animation:false, backgroundColor:'#ffffff', grid, xAxis, yAxis, series, graphic});
</script>
</body></html>
